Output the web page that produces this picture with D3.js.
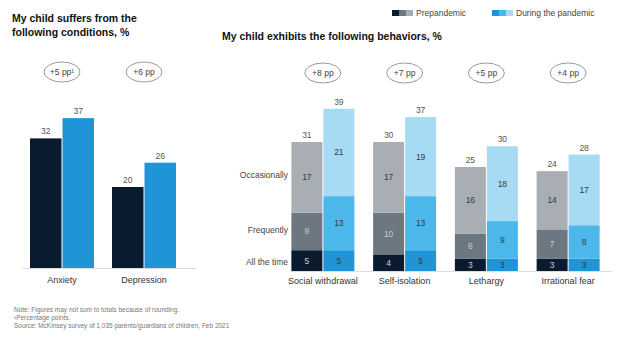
<!DOCTYPE html>
<html><head><meta charset="utf-8">
<script src="https://cdn.jsdelivr.net/npm/d3@7"></script>
<style>body{margin:0;background:#fff}svg{display:block;font-family:Arial,"Liberation Sans",sans-serif}</style>
</head><body><svg id="c" width="622" height="338"></svg>
<script>
// ---- data ----
const condCategories = ["Anxiety", "Depression"];
const condPre = [32, 20];
const condDuring = [37, 26];
const condDiff = ["+5 pp\u00b9", "+6 pp"];

const behCategories = ["Social withdrawal", "Self-isolation", "Lethargy", "Irrational fear"];
const levels = ["All the time", "Frequently", "Occasionally"];
const behPre = [[5, 9, 17], [4, 10, 17], [3, 6, 16], [3, 7, 14]];
const behDuring = [[5, 13, 21], [5, 13, 19], [3, 9, 18], [3, 8, 17]];
const behPreTotal = [31, 30, 25, 24];
const behDuringTotal = [39, 37, 30, 28];
const behDiff = ["+8 pp", "+7 pp", "+5 pp", "+4 pp"];

const periods = ["Prepandemic", "During the pandemic"];
const preColors = ["#0b1b2f", "#6d7782", "#a9aeb4"];
const duringColors = ["#1f94d6", "#4cb8e9", "#a7dbf4"];

const svg = d3.select("#c");

// ---- legend ----
const leg = svg.append("g");
[[392, preColors, periods[0]], [492, duringColors, periods[1]]].forEach(([x, cols, t]) => {
  cols.forEach((c, i) => leg.append("rect").attr("x", x + i * 7).attr("y", 10).attr("width", 7).attr("height", 6).attr("fill", c));
  leg.append("text").attr("x", x + 24).attr("y", 16).attr("font-size", 8.5).attr("fill", "#444").text(t);
});

// ---- titles ----
const t1 = svg.append("text").attr("font-size", 10.5).attr("font-weight", "bold").attr("fill", "#111");
t1.append("tspan").attr("x", 12).attr("y", 22).text("My child suffers from the");
t1.append("tspan").attr("x", 12).attr("y", 36).text("following conditions, %");
svg.append("text").attr("x", 222).attr("y", 40).attr("font-size", 10.5).attr("font-weight", "bold").attr("fill", "#111")
  .text("My child exhibits the following behaviors, %");

function diffBubble(cx, cy, txt) {
  svg.append("ellipse").attr("cx", cx).attr("cy", cy).attr("rx", 18).attr("ry", 10)
    .attr("fill", "none").attr("stroke", "#9a9a9a").attr("stroke-width", 1);
  svg.append("text").attr("x", cx).attr("y", cy + 3).attr("text-anchor", "middle")
    .attr("font-size", 8.5).attr("fill", "#444").text(txt);
}

// ---- left chart ----
const xL = d3.scaleBand().domain(condCategories).range([21, 185]).paddingInner(0).paddingOuter(0);
const yL = d3.scaleLinear().domain([0, 40]).range([268, 106]);
const bwL = 31.5;
condCategories.forEach((c, i) => {
  const cx = xL(c) + xL.bandwidth() / 2;
  diffBubble(cx, 72, condDiff[i]);
  [[condPre[i], "#0b1b2f", cx - bwL - 0.5], [condDuring[i], "#1f94d6", cx + 0.5]].forEach(([v, col, x]) => {
    svg.append("rect").attr("x", x).attr("y", yL(v)).attr("width", bwL).attr("height", yL(0) - yL(v)).attr("fill", col);
    svg.append("text").attr("x", x + bwL / 2).attr("y", yL(v) - 4).attr("text-anchor", "middle")
      .attr("font-size", 8.5).attr("fill", "#555").text(v);
  });
  svg.append("text").attr("x", cx).attr("y", 283).attr("text-anchor", "middle").attr("font-size", 9).attr("fill", "#333").text(c);
});
svg.append("line").attr("x1", 22).attr("x2", 196).attr("y1", 268.5).attr("y2", 268.5).attr("stroke", "#ddd");

// ---- right chart ----
const xR = d3.scaleBand().domain(behCategories).range([282, 609]).paddingInner(0).paddingOuter(0);
const yR = d3.scaleLinear().domain([0, 40]).range([271, 104.6]);
const bwR = 31;
const stack = d3.stack().keys([0, 1, 2]);
behCategories.forEach((c, i) => {
  const cx = xR(c) + xR.bandwidth() / 2;
  diffBubble(cx, 73, behDiff[i]);
  [[behPre[i], preColors, cx - bwR - 0.5, behPreTotal[i], true], [behDuring[i], duringColors, cx + 0.5, behDuringTotal[i], false]]
    .forEach(([vals, cols, x, tot, isPre]) => {
      const s = stack([vals]);
      s.forEach((layer, k) => {
        const d = layer[0];
        svg.append("rect").attr("x", x).attr("y", yR(d[1])).attr("width", bwR).attr("height", yR(d[0]) - yR(d[1])).attr("fill", cols[k]);
        const lc = (isPre && k === 0) ? "#c8ccd2" : (isPre && k === 1) ? "#c5cad0" : "#2d3a48";
        svg.append("text").attr("x", x + bwR / 2).attr("y", (yR(d[0]) + yR(d[1])) / 2 + 3)
          .attr("text-anchor", "middle").attr("font-size", 8.5).attr("fill", lc).text(vals[k]);
      });
      const top = d3.sum(vals);
      svg.append("text").attr("x", x + bwR / 2).attr("y", yR(top) - 4).attr("text-anchor", "middle")
        .attr("font-size", 8.5).attr("fill", "#555").text(tot);
    });
  svg.append("text").attr("x", cx).attr("y", 284).attr("text-anchor", "middle").attr("font-size", 9).attr("fill", "#333").text(c);
});
svg.append("line").attr("x1", 290).attr("x2", 612).attr("y1", 271.5).attr("y2", 271.5).attr("stroke", "#ddd");

// row labels
const rowY = [265, 233, 178];
levels.forEach((l, k) => {
  svg.append("text").attr("x", 288).attr("y", rowY[k]).attr("text-anchor", "end")
    .attr("font-size", 8.5).attr("fill", "#444").text(l);
});

// ---- footnotes ----
const notes = [
  "Note: Figures may not sum to totals because of rounding.",
  "\u00b9Percentage points.",
  "Source: McKinsey survey of 1,035 parents/guardians of children, Feb 2021"
];
notes.forEach((n, i) => svg.append("text").attr("x", 14).attr("y", 312 + i * 8).attr("font-size", 6.5).attr("fill", "#777").text(n));
</script></body></html>
